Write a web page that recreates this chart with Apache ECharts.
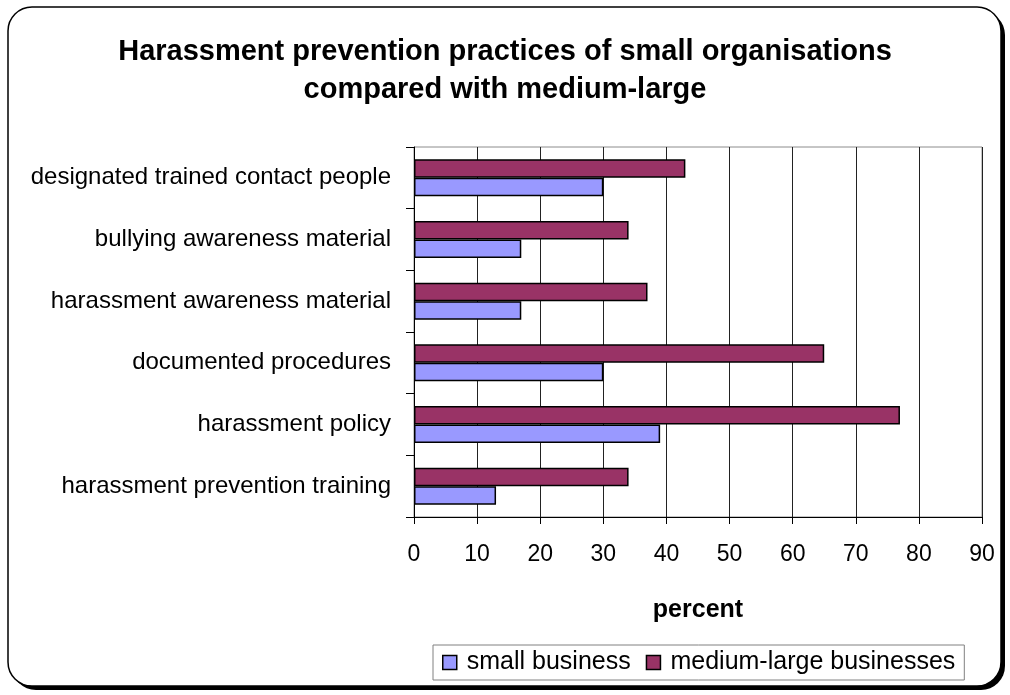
<!DOCTYPE html>
<html>
<head>
<meta charset="utf-8">
<script src="https://cdn.jsdelivr.net/npm/echarts@6/dist/echarts.min.js"></script>
<style>
  html, body { margin: 0; padding: 0; background: #fff; }
  #chart { width: 1010px; height: 695px; }
</style>
</head>
<body>
<div id="chart"></div>
<script>
// Practices, listed top to bottom
const categories = [
  'designated trained contact people',
  'bullying awareness material',
  'harassment awareness material',
  'documented procedures',
  'harassment policy',
  'harassment prevention training'
];
// Percent of organisations using each practice
const smallBusiness = [30, 17, 17, 30, 39, 13];
const mediumLarge = [43, 34, 37, 65, 77, 34];
const xTicks = [0, 10, 20, 30, 40, 50, 60, 70, 80, 90];

const FONT = '"Liberation Sans", Arial, sans-serif';

const chart = echarts.init(document.getElementById('chart'), null, { renderer: 'canvas' });

chart.setOption({
  backgroundColor: '#ffffff',
  animation: false,
  graphic: [
    {
      type: 'rect', z: -20, silent: true,
      shape: { x: 12, y: 11, width: 993, height: 679, r: 24 },
      style: { fill: '#000' }
    },
    {
      type: 'rect', z: -19, silent: true,
      shape: { x: 8, y: 7, width: 993, height: 679, r: 24 },
      style: { fill: '#fff', stroke: '#000', lineWidth: 1.5 }
    }
  ],
  title: {
    text: 'Harassment prevention practices of small organisations\ncompared with medium-large',
    left: 'center',
    top: 28,
    textStyle: {
      fontFamily: FONT,
      fontSize: 29,
      fontWeight: 'bold',
      color: '#000',
      lineHeight: 38,
      align: 'center'
    }
  },
  legend: {
    data: ['small business', 'medium-large businesses'],
    left: 433,
    top: 645,
    orient: 'horizontal',
    padding: [5, 9, 5, 9],
    itemWidth: 14,
    itemHeight: 14,
    itemGap: 15,
    borderColor: '#808080',
    borderWidth: 1,
    icon: 'rect',
    itemStyle: { borderColor: '#000', borderWidth: 1.5 },
    textStyle: { fontFamily: FONT, fontSize: 25, color: '#000', padding: [0, 0, 0, 5] }
  },
  grid: {
    left: 414,
    right: 28,
    top: 147,
    bottom: 178,
    show: true,
    borderColor: '#8c8c8c',
    borderWidth: 1,
    backgroundColor: 'transparent'
  },
  xAxis: {
    type: 'value',
    min: xTicks[0],
    max: xTicks[xTicks.length - 1],
    interval: xTicks[1] - xTicks[0],
    name: 'percent',
    nameLocation: 'middle',
    nameGap: 81,
    nameTextStyle: { fontFamily: FONT, fontSize: 25, fontWeight: 'bold', color: '#000' },
    axisLine: { show: true, lineStyle: { color: '#000', width: 1 } },
    axisTick: { show: true, length: 7, inside: false, lineStyle: { color: '#000' } },
    axisLabel: { fontFamily: FONT, fontSize: 23, color: '#000', margin: 26 },
    splitLine: { show: true, lineStyle: { color: '#222', width: 1 } }
  },
  yAxis: {
    type: 'category',
    data: categories,
    inverse: true,
    axisLine: { show: true, lineStyle: { color: '#000', width: 1 } },
    axisTick: { show: true, length: 8, inside: false, lineStyle: { color: '#000' } },
    axisLabel: { fontFamily: FONT, fontSize: 24, color: '#000', margin: 23 },
    splitLine: { show: false }
  },
  series: [
    {
      name: 'medium-large businesses',
      type: 'bar',
      data: mediumLarge,
      barGap: '0%',
      barCategoryGap: '40%',
      itemStyle: { color: '#993366', borderColor: '#000', borderWidth: 1.5 }
    },
    {
      name: 'small business',
      type: 'bar',
      data: smallBusiness,
      barGap: '0%',
      barCategoryGap: '40%',
      itemStyle: { color: '#9999ff', borderColor: '#000', borderWidth: 1.5 }
    }
  ]
});
</script>
</body>
</html>
